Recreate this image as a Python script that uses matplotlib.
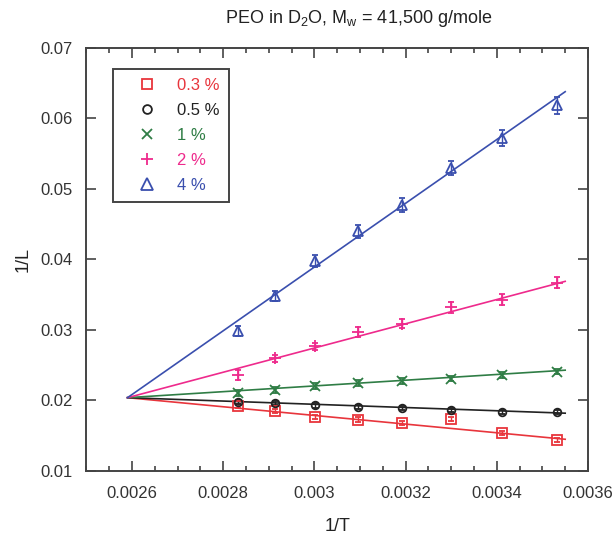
import matplotlib
matplotlib.use('Agg')
import matplotlib.pyplot as plt
from matplotlib import ticker

plt.rcParams['font.family'] = ['Liberation Sans', 'DejaVu Sans']
plt.rcParams['mathtext.fontset'] = 'custom'
plt.rcParams['mathtext.rm'] = 'Liberation Sans'
plt.rcParams['mathtext.it'] = 'Liberation Sans:italic'

# 1/T values of the measured points
inv_T = [0.002832, 0.002914, 0.003002, 0.003095, 0.003193, 0.003299, 0.003411, 0.003532]

labels = ['0.3 %', '0.5 %', '1 %', '2 %', '4 %']
colors = ['#e8353c', '#222222', '#2f7d45', '#ee2a8c', '#3a4fae']
markers = ['s', 'o', 'x', '+', '^']

# 1/L for each concentration
y_03 = [0.0192, 0.0185, 0.0177, 0.0173, 0.0168, 0.0174, 0.0154, 0.0144]
y_05 = [0.0198, 0.0196, 0.0193, 0.0191, 0.0189, 0.0187, 0.0184, 0.0184]
y_1 = [0.0211, 0.0215, 0.0221, 0.0225, 0.0228, 0.0231, 0.0236, 0.0241]
y_2 = [0.0236, 0.0260, 0.0277, 0.0297, 0.0309, 0.0332, 0.0343, 0.0367]
y_4 = [0.0299, 0.0348, 0.0398, 0.0440, 0.0477, 0.0530, 0.0572, 0.0619]

err_03 = [0.0003] * 8
err_05 = [0.0003] * 8
err_1 = [0.0004] * 8
err_2 = [0.0007, 0.0005, 0.0005, 0.0007, 0.0006, 0.0008, 0.0008, 0.0008]
err_4 = [0.0007, 0.0007, 0.0009, 0.0009, 0.0010, 0.0010, 0.0011, 0.0012]

# fitted lines: common start point, end values at fit_x[1]
fit_x = [0.00259, 0.00355]
fit_start = 0.0204
fit_end = [0.0145, 0.0182, 0.0243, 0.0369, 0.0638]

series = [y_03, y_05, y_1, y_2, y_4]
errors = [err_03, err_05, err_1, err_2, err_4]
msizes = [6.5, 5.5, 6.5, 8, 7]

fig = plt.figure(figsize=(6.13, 5.41), dpi=100)
ax = fig.add_axes([0.1411, 0.1294, 0.8181, 0.7819])

handles = []
for ys, es, end, c, m, ms in zip(series, errors, fit_end, colors, markers, msizes):
    ax.plot(fit_x, [fit_start, end], color=c, lw=1.2, zorder=2)
    cont = ax.errorbar(inv_T, ys, yerr=es, fmt=m, color=c, ms=ms,
                       mfc='none', mec=c, mew=1.3, elinewidth=1.0,
                       capsize=2.5, capthick=1.0, zorder=3)
    handles.append(cont[0])

ax.set_xlim(0.0025, 0.0036)
ax.set_ylim(0.01, 0.07)
ax.xaxis.set_major_locator(ticker.MultipleLocator(0.0002))
ax.xaxis.set_minor_locator(ticker.MultipleLocator(0.00005))
ax.yaxis.set_major_locator(ticker.MultipleLocator(0.01))
ax.xaxis.set_major_formatter(ticker.FormatStrFormatter('%g'))
ax.yaxis.set_major_formatter(ticker.FormatStrFormatter('%g'))
ax.tick_params(which='both', direction='in', top=True, right=True,
               colors='#444444', labelcolor='#333333', width=1.2)
ax.tick_params(which='major', length=7, labelsize=12)
ax.tick_params(axis='x', which='major', pad=11)
ax.tick_params(axis='y', which='major', pad=10)
ax.tick_params(which='minor', length=3.5)
for sp in ax.spines.values():
    sp.set_color('#444444')
    sp.set_linewidth(1.4)

ax.set_xlabel('1/T', fontsize=13, color='#222222', labelpad=12)
ax.set_ylabel('1/L', fontsize=13, color='#222222', labelpad=6)
fig.text(0.585, 0.965, 'PEO in D$_2$O, M$_\\mathrm{w}$ = 41,500 g/mole',
         ha='center', va='center', fontsize=13, color='#222222')

leg = ax.legend(handles, labels, loc='upper left', bbox_to_anchor=(0.053, 0.95),
                borderaxespad=0, fontsize=12, handlelength=3.0, handletextpad=0.3,
                labelspacing=0.6, borderpad=0.55, fancybox=False, framealpha=1,
                edgecolor='#444444', markerscale=1.15)
leg.get_frame().set_linewidth(1.4)
for txt, c in zip(leg.get_texts(), colors):
    txt.set_color(c)

fig.savefig('out.png', dpi=100)
